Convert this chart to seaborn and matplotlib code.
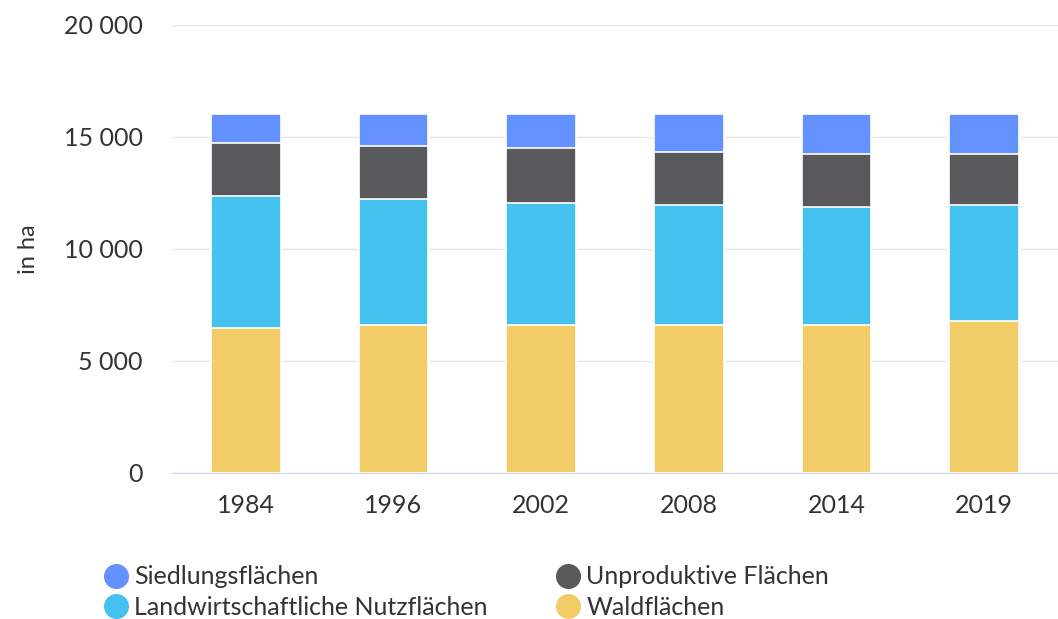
import numpy as np
import pandas as pd
import seaborn as sns
import matplotlib.pyplot as plt
from matplotlib.lines import Line2D
from matplotlib.ticker import FuncFormatter

# data (ha)
years = ["1984", "1996", "2002", "2008", "2014", "2019"]
wald = [6460, 6610, 6610, 6610, 6610, 6780]
landwirtschaft = [5920, 5600, 5430, 5340, 5270, 5170]
unproduktiv = [2370, 2370, 2460, 2400, 2380, 2310]
siedlung = [1290, 1460, 1540, 1690, 1780, 1780]

colors = {"Siedlungsflächen": "#6391ff", "Unproduktive Flächen": "#59595b",
          "Landwirtschaftliche Nutzflächen": "#45c1ef", "Waldflächen": "#f2cd67"}

df = pd.DataFrame({"Jahr": years, "Waldflächen": wald,
                   "Landwirtschaftliche Nutzflächen": landwirtschaft,
                   "Unproduktive Flächen": unproduktiv,
                   "Siedlungsflächen": siedlung})

# cumulative totals, bottom series first
stack_order = ["Waldflächen", "Landwirtschaftliche Nutzflächen",
               "Unproduktive Flächen", "Siedlungsflächen"]
cum = df[stack_order].cumsum(axis=1)

sns.set_style("white")
plt.rcParams["font.family"] = ["Lato", "DejaVu Sans"]

fig = plt.figure(figsize=(10.58, 6.19), dpi=100)
ax = fig.add_axes([172 / 1058, 1 - 473 / 619, 886 / 1058, 448 / 619])

# draw tallest first so lower segments sit on top
for name in reversed(stack_order):
    sns.barplot(x=df["Jahr"], y=cum[name], color=colors[name], width=0.47,
                saturation=1, edgecolor="white", linewidth=1.2, ax=ax, zorder=3)

ax.set_ylim(0, 20000)
ax.set_yticks([0, 5000, 10000, 15000, 20000])
ax.yaxis.set_major_formatter(FuncFormatter(lambda v, p: f"{int(v):,}".replace(",", " ")))
ax.grid(axis="y", color="#e6e6e6", linewidth=1, zorder=0)
ax.set_axisbelow(True)
for s in ["top", "right", "left"]:
    ax.spines[s].set_visible(False)
ax.spines["bottom"].set_color("#ccd6eb")
ax.tick_params(axis="both", length=0, labelsize=18, colors="#333333")
ax.tick_params(axis="x", pad=15)
ax.tick_params(axis="y", pad=21)
ax.set_xlabel("")
ax.set_ylabel("in ha", fontsize=17, color="#333333", labelpad=18)

labels = ["Siedlungsflächen", "Landwirtschaftliche Nutzflächen",
          "Unproduktive Flächen", "Waldflächen"]
handles = [Line2D([0], [0], marker="o", linestyle="", markersize=17,
                  markerfacecolor=colors[n], markeredgecolor=colors[n]) for n in labels]
fig.legend(handles, labels, ncol=2, frameon=False, loc="upper left",
           bbox_to_anchor=(88 / 1058, 1 - 553 / 619), fontsize=18,
           handletextpad=0.15, handlelength=1.2, columnspacing=2.6,
           labelspacing=0.3, borderpad=0, labelcolor="#333333")

fig.savefig("out.png", dpi=100)
